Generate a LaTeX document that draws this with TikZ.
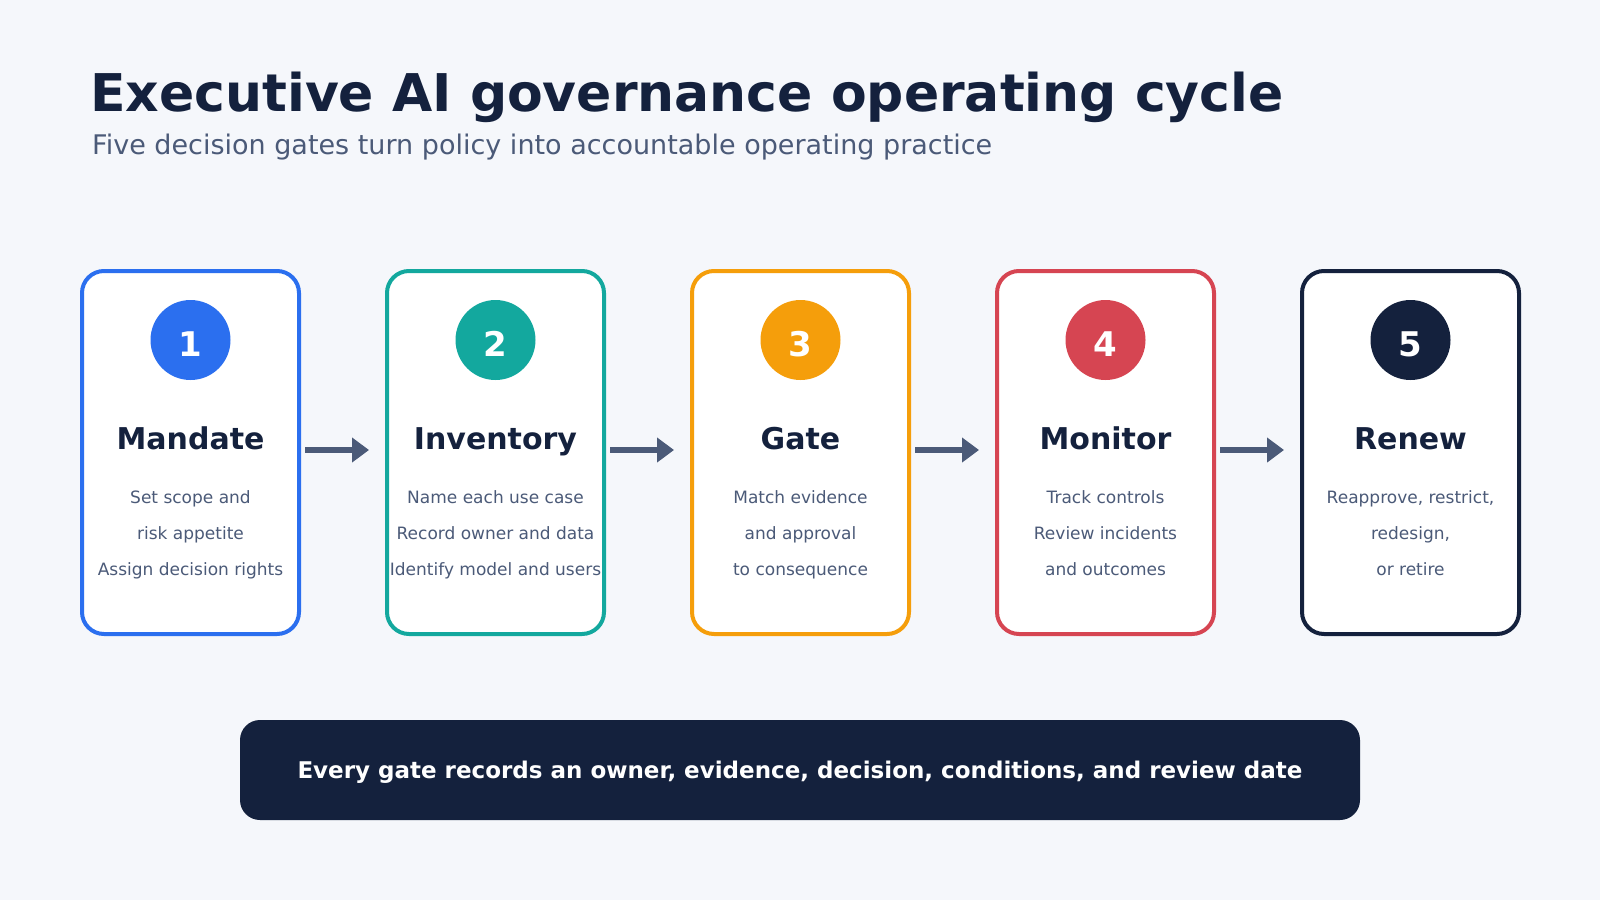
\documentclass[tikz,border=0pt]{standalone}
\usepackage{fontspec}
\setmainfont{DejaVu Sans}
\usetikzlibrary{arrows.meta}
\definecolor{pagebg}{HTML}{F5F7FB}
\definecolor{navy}{HTML}{14213D}
\definecolor{slate}{HTML}{4B5A78}
\definecolor{cblue}{HTML}{2B6FEF}
\definecolor{cteal}{HTML}{13A89E}
\definecolor{camber}{HTML}{F59E0B}
\definecolor{cred}{HTML}{D64552}
\tikzset{
  card/.style={draw=#1, fill=white, line width=4pt, rounded corners=22pt,
    minimum width=217pt, minimum height=363pt, inner sep=0pt},
  badge/.style={circle, fill=#1, minimum size=80pt, inner sep=0pt, text=white,
    font=\bfseries\fontsize{34}{34}\selectfont, text height=33pt, text depth=0pt},
  head/.style={anchor=base, text=navy, font=\bfseries\fontsize{30}{36}\selectfont},
  body/.style={anchor=base, text=slate, font=\fontsize{17}{20}\selectfont},
  flow/.style={draw=slate, line width=6pt, -{Triangle[length=17pt,width=24pt]}},
  banner/.style={fill=navy, rounded corners=20pt, minimum width=1120pt,
    minimum height=100pt, text=white, text depth=0pt,
    font=\bfseries\fontsize{23}{27}\selectfont}
}

\begin{document}
\begin{tikzpicture}[x=1pt,y=-1pt]
  \fill[pagebg] (0,0) rectangle (1600,900);
  \useasboundingbox (0,0) rectangle (1600,900);
% Heading
  \node[anchor=base west, inner sep=0pt, text=navy,
    font=\bfseries\fontsize{52}{60}\selectfont] (title) at (90,111)
    {Executive AI governance operating cycle};
  \node[anchor=base west, inner sep=0pt, text=slate,
    font=\fontsize{27}{32}\selectfont] (subtitle) at (92,154)
    {Five decision gates turn policy into accountable operating practice};
% Five gate cards
  \foreach \i/\col/\stage/\first/\second/\third in {
    1/cblue/Mandate/Set scope and/risk appetite/Assign decision rights,
    2/cteal/Inventory/Name each use case/Record owner and data/Identify model and users,
    3/camber/Gate/Match evidence/and approval/to consequence,
    4/cred/Monitor/Track controls/Review incidents/and outcomes,
    5/navy/Renew/{Reapprove, restrict,}/{redesign,}/or retire}
  {
    \pgfmathsetmacro{\cx}{190.5+305*(\i-1)}
    \node[card=\col] (card\i) at (\cx,452.5) {};
    \node[badge=\col] (num\i) at (\cx,340) {\i};
    \node[head] (stage\i) at (\cx,449) {\stage};
    \node[body] (linea\i) at (\cx,503) {\first};
    \node[body] (lineb\i) at (\cx,539) {\second};
    \node[body] (linec\i) at (\cx,575) {\third};
  }
% Arrows between cards
  \foreach \i [count=\j from 2] in {1,...,4}
    \draw[flow] ([xshift=4pt,yshift=2.5pt]card\i.east)
      -- ([xshift=-16pt,yshift=2.5pt]card\j.west);
% Footer note
  \node[banner] (note) at (800,770)
    {Every gate records an owner, evidence, decision, conditions, and review date};
\end{tikzpicture}
\end{document}
